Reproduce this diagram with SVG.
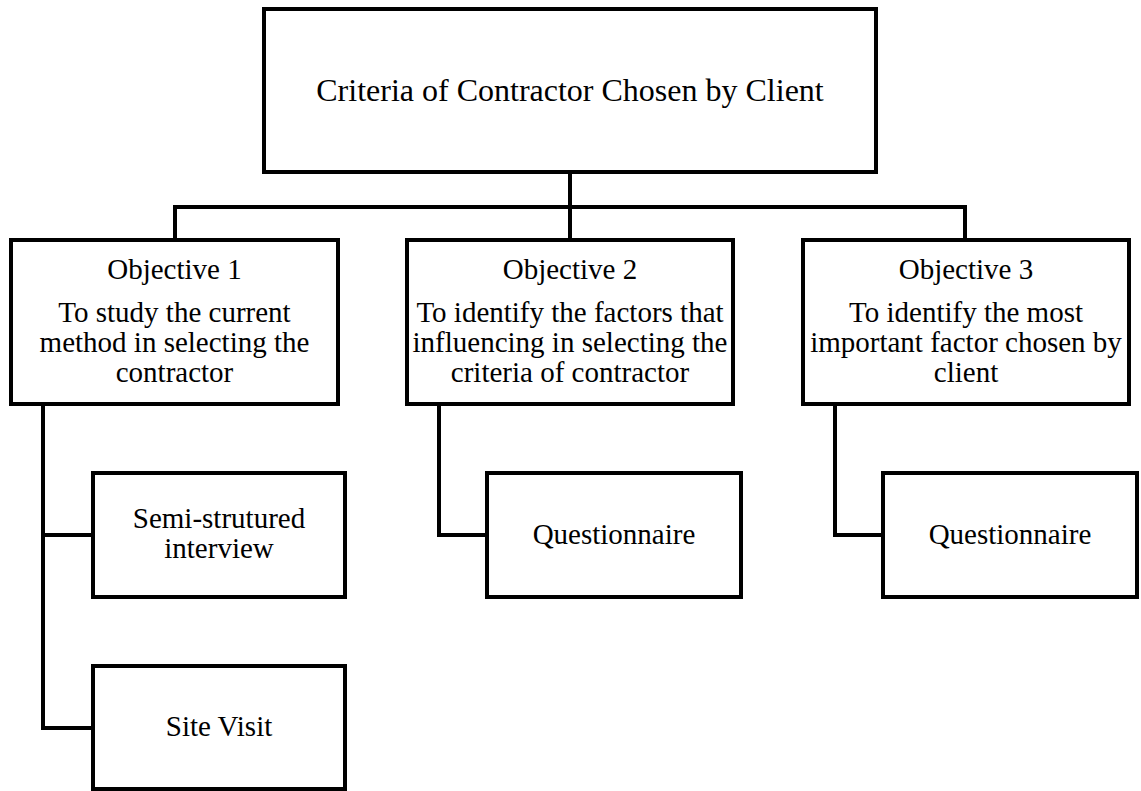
<svg xmlns="http://www.w3.org/2000/svg" width="1141" height="791" viewBox="0 0 1141 791">
<style>
.box{fill:#fff;stroke:#000;stroke-width:4}
.ln{fill:none;stroke:#000;stroke-width:4;stroke-linecap:square}
text{font-family:"Liberation Serif","Times New Roman",serif;fill:#000;text-anchor:middle}
.t{font-size:29px}
.h{font-size:32px}
</style>
<rect width="1141" height="791" fill="#fff"/>
<g id="connectors">
<path class="ln" d="M570,172 V240"/>
<path class="ln" d="M175,240 V207 H965 V240"/>
<path class="ln" d="M43,404 V728 H93"/>
<path class="ln" d="M43,535 H93"/>
<path class="ln" d="M439,404 V535 H487"/>
<path class="ln" d="M835,404 V535 H883"/>
</g>
<g id="root">
<rect class="box" x="264" y="9" width="612" height="163"/>
<text class="h" x="570" y="101">Criteria of Contractor Chosen by Client</text>
</g>
<g id="obj1">
<rect class="box" x="11" y="240" width="327" height="164"/>
<text class="t" x="174.5" y="279">Objective 1</text>
<text class="t" x="174.5" y="322">To study the current</text>
<text class="t" x="174.5" y="352">method in selecting the</text>
<text class="t" x="174.5" y="382">contractor</text>
</g>
<g id="obj2">
<rect class="box" x="407" y="240" width="326" height="164"/>
<text class="t" x="570" y="279">Objective 2</text>
<text class="t" x="570" y="322">To identify the factors that</text>
<text class="t" x="570" y="352">influencing in selecting the</text>
<text class="t" x="570" y="382">criteria of contractor</text>
</g>
<g id="obj3">
<rect class="box" x="803" y="240" width="326" height="164"/>
<text class="t" x="966" y="279">Objective 3</text>
<text class="t" x="966" y="322">To identify the most</text>
<text class="t" x="966" y="352">important factor chosen by</text>
<text class="t" x="966" y="382">client</text>
</g>
<g id="semi">
<rect class="box" x="93" y="473" width="252" height="124"/>
<text class="t" x="219" y="528">Semi-strutured</text>
<text class="t" x="219" y="558">interview</text>
</g>
<g id="site">
<rect class="box" x="93" y="666" width="252" height="123"/>
<text class="t" x="219" y="736">Site Visit</text>
</g>
<g id="q2">
<rect class="box" x="487" y="473" width="254" height="124"/>
<text class="t" x="614" y="544">Questionnaire</text>
</g>
<g id="q3">
<rect class="box" x="883" y="473" width="254" height="124"/>
<text class="t" x="1010" y="544">Questionnaire</text>
</g>
</svg>
